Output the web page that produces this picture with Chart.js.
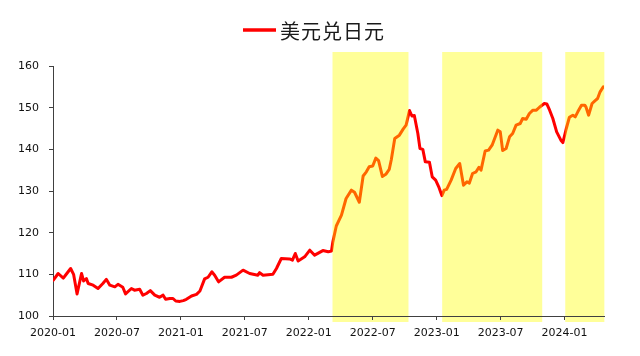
<!DOCTYPE html>
<html><head><meta charset="utf-8">
<script src="https://cdn.jsdelivr.net/npm/chart.js@4/dist/chart.umd.min.js"></script>
<style>html,body{margin:0;padding:0;background:#fff}canvas{display:block}</style>
</head><body>
<canvas id="c" width="640" height="356"></canvas>
<script>
const seriesName = '美元兑日元';
const dates = [
'2020-01-02','2020-01-16','2020-01-31','2020-02-07','2020-02-20','2020-02-28','2020-03-09','2020-03-22','2020-03-28','2020-04-05',
'2020-04-10','2020-04-24','2020-05-08','2020-05-22','2020-06-01','2020-06-11','2020-06-25','2020-07-04','2020-07-18','2020-07-26',
'2020-08-12','2020-08-21','2020-09-05','2020-09-14','2020-09-24','2020-10-05','2020-10-18','2020-11-01','2020-11-11','2020-11-18',
'2020-11-30','2020-12-09','2020-12-17','2020-12-29','2021-01-08','2021-01-17','2021-02-01','2021-02-14','2021-02-23','2021-03-08',
'2021-03-18','2021-03-29','2021-04-06','2021-04-17','2021-05-04','2021-05-24','2021-06-07','2021-06-26','2021-07-15','2021-08-08',
'2021-08-13','2021-08-23','2021-09-20','2021-09-30','2021-10-14','2021-11-07','2021-11-15','2021-11-23','2021-12-01','2021-12-20',
'2022-01-04','2022-01-18','2022-02-10','2022-02-24','2022-03-05','2022-03-09','2022-03-19','2022-04-03','2022-04-16','2022-05-01',
'2022-05-10','2022-05-24','2022-06-04','2022-06-13','2022-06-21','2022-07-01','2022-07-10','2022-07-18','2022-07-29','2022-08-08',
'2022-08-18','2022-08-24','2022-09-03','2022-09-16','2022-09-27','2022-10-05','2022-10-15','2022-10-22','2022-10-29','2022-11-08',
'2022-11-14','2022-11-22','2022-11-29','2022-12-11','2022-12-19','2022-12-29','2023-01-08','2023-01-16','2023-01-23','2023-01-30',
'2023-02-11','2023-02-23','2023-03-06','2023-03-17','2023-03-27','2023-04-03','2023-04-12','2023-04-22','2023-04-30','2023-05-06',
'2023-05-18','2023-05-28','2023-06-07','2023-06-23','2023-06-30','2023-07-07','2023-07-17','2023-07-27','2023-08-05','2023-08-15',
'2023-08-27','2023-09-03','2023-09-13','2023-09-22','2023-10-02','2023-10-12','2023-10-21','2023-11-04','2023-11-11','2023-11-19',
'2023-11-28','2023-12-09','2023-12-22','2023-12-27','2024-01-06','2024-01-15','2024-01-25','2024-02-01','2024-02-08','2024-02-18',
'2024-02-27','2024-03-01','2024-03-09','2024-03-19','2024-03-28','2024-04-04','2024-04-11','2024-04-20'
];
const usdjpy = [
108.6,110.2,109.1,109.9,111.4,110.0,105.3,110.2,108.4,109.0,
107.8,107.4,106.6,107.8,108.8,107.4,107.0,107.6,106.9,105.3,
106.6,106.2,106.4,105.0,105.4,106.1,105.0,104.5,105.0,104.0,
104.2,104.2,103.6,103.5,103.7,104.0,104.8,105.2,106.0,108.9,
109.3,110.6,109.8,108.2,109.3,109.3,109.8,111.0,110.2,109.8,
110.4,109.8,110.0,111.4,113.8,113.7,113.4,115.0,113.2,114.2,
115.8,114.6,115.7,115.4,115.6,117.8,121.6,124.2,128.2,130.2,
129.7,127.3,133.6,134.6,135.8,136.0,137.9,137.3,133.5,134.0,
135.2,137.5,142.6,143.4,144.9,145.8,149.3,148.0,148.1,143.8,
140.2,140.0,137.0,136.9,133.4,132.6,130.8,128.9,130.2,130.4,
132.6,135.4,136.6,131.4,132.2,131.9,134.2,134.6,135.7,135.0,
139.6,139.8,141.0,144.6,144.2,139.7,140.2,143.0,143.8,145.8,
146.2,147.4,147.2,148.6,149.4,149.4,150.1,151.0,150.9,149.4,
147.4,144.2,142.1,141.6,145.0,147.7,148.2,147.8,149.0,150.6,
150.6,150.2,148.2,151.0,151.7,152.2,153.8,155.0
];
const shadeStarts = ['2022-03-08','2023-01-17','2024-01-03'];
const shadeEnds   = ['2022-10-12','2023-10-29','2024-04-23'];
const axisStart = '2020-01-01';
const axisEnd = '2024-04-22';
const yMin = 100, yMax = 160, yStep = 10;
const xTickMonths = 6;

function monthIndex(s){
  const [y,m,d] = s.split('-').map(Number);
  const dim = new Date(y, m, 0).getDate();
  return (y-2020)*12 + (m-1) + (d-1)/dim;
}
function monthLabel(v){
  const y = 2020 + Math.floor(v/12);
  const m = (v % 12) + 1;
  return y + '-' + String(m).padStart(2,'0');
}

const points = dates.map((d,i)=>({x: monthIndex(d), y: usdjpy[i]}));

const shadePlugin = {
  id: 'shade',
  afterDatasetsDraw(chart){
    const {ctx, chartArea:a, scales:{x}} = chart;
    ctx.save();
    ctx.fillStyle = 'rgba(255,255,0,0.4)';
    shadeStarts.forEach((s,i)=>{
      const x0 = x.getPixelForValue(monthIndex(s));
      const x1 = x.getPixelForValue(monthIndex(shadeEnds[i]));
      const top = a.top - 14, bottom = a.bottom + 6;
      ctx.fillRect(x0, top, x1 - x0, bottom - top);
    });
    ctx.restore();
    x.drawGrid(a);
    x.drawBorder();
  }
};

const legendPlugin = {
  id: 'customLegend',
  afterDraw(chart){
    const ctx = chart.ctx;
    const ds = chart.data.datasets[0];
    ctx.save();
    ctx.strokeStyle = ds.borderColor;
    ctx.lineWidth = 3.5;
    ctx.beginPath();
    ctx.moveTo(243, 30); ctx.lineTo(276, 30);
    ctx.stroke();
    ctx.font = '20px "Noto Sans CJK SC"';
    ctx.fillStyle = '#1a1a1a';
    ctx.textBaseline = 'middle';
    ctx.textAlign = 'left';
    if ('letterSpacing' in ctx) ctx.letterSpacing = '1px';
    ctx.fillText(ds.label, 280, 31);
    ctx.restore();
  }
};

Chart.defaults.font.family = 'DejaVu Sans';
Chart.defaults.font.size = 11;
Chart.defaults.color = '#111';

new Chart(document.getElementById('c'), {
  type: 'line',
  data: {
    datasets: [{
      label: seriesName,
      data: points,
      borderColor: '#ff0000',
      borderWidth: 3,
      pointRadius: 0,
      fill: false,
      tension: 0,
      borderJoinStyle: 'round',
      borderCapStyle: 'round'
    }]
  },
  options: {
    responsive: false,
    animation: false,
    layout: { padding: { top: 66, right: 36, bottom: 0, left: 0 } },
    plugins: { legend: { display: false }, tooltip: { enabled: false } },
    scales: {
      x: {
        type: 'linear',
        min: monthIndex(axisStart),
        max: monthIndex(axisEnd),
        grid: { display: true, drawOnChartArea: false, drawTicks: true, tickLength: 4, color: '#404040' },
        border: { display: true, color: '#404040', width: 1 },
        ticks: {
          stepSize: xTickMonths, includeBounds: false, autoSkip: false, maxRotation: 0, padding: 7,
          callback: v => (Number.isInteger(v) && v % xTickMonths === 0) ? monthLabel(v) : ''
        },
        afterFit(scale){ scale.height = 40; }
      },
      y: {
        min: yMin, max: yMax,
        grid: { display: true, drawOnChartArea: false, drawTicks: true, tickLength: 4, color: '#404040' },
        border: { display: true, color: '#404040', width: 1 },
        ticks: { stepSize: yStep, padding: 10 },
        afterFit(scale){ scale.width = 53; }
      }
    }
  },
  plugins: [shadePlugin, legendPlugin]
});
</script>
</body></html>
